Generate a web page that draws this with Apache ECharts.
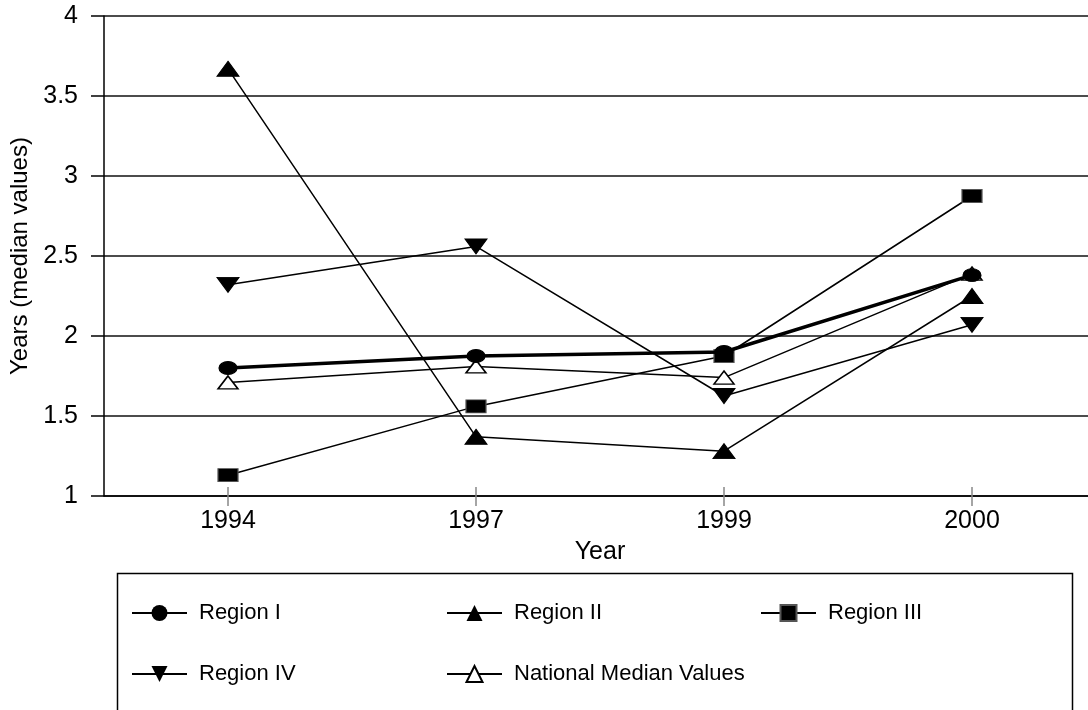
<!DOCTYPE html>
<html>
<head>
<meta charset="utf-8">
<script src="https://cdn.jsdelivr.net/npm/echarts@6/dist/echarts.min.js"></script>
<style>html,body{margin:0;padding:0;background:#fff;overflow:hidden;width:1088px;height:710px;}#c{width:1100px;height:710px;}</style>
</head>
<body>
<div id="c"></div>
<script>
const years = ['1994', '1997', '1999', '2000'];
const regionI = [1.80, 1.875, 1.90, 2.38];
const regionII = [3.67, 1.37, 1.28, 2.25];
const regionIII = [1.13, 1.56, 1.875, 2.875];
const regionIV = [2.32, 2.56, 1.625, 2.07];
const national = [1.71, 1.81, 1.74, 2.39];
const yTicks = { min: 1, max: 4, interval: 0.5 };

const FONT = "'Liberation Sans', Arial, sans-serif";
const invTri = 'path://M0,0 L22,0 L11,15 Z';

const chart = echarts.init(document.getElementById('c'), null, { renderer: 'canvas' });

function legendAt(name, left, top) {
  return {
    data: [name], left: left, top: top, padding: 0, orient: 'horizontal',
    itemWidth: 55, itemHeight: 20, selectedMode: false,
    textStyle: { fontFamily: FONT, fontSize: 22, color: '#000', padding: [0, 0, 0, 7] }
  };
}

chart.setOption({
  animation: false,
  backgroundColor: '#fff',
  grid: { left: 103, top: 16, width: 993, height: 480, containLabel: false },
  graphic: [{
    type: 'rect', silent: true, z: -1,
    shape: { x: 117.5, y: 573.5, width: 955, height: 160 },
    style: { fill: 'none', stroke: '#000', lineWidth: 1.5 }
  }],
  legend: [
    legendAt('Region I', 131, 602),
    legendAt('Region II', 446, 602),
    legendAt('Region III', 760, 602),
    legendAt('Region IV', 131, 663),
    legendAt('National Median Values', 446, 663)
  ],
  xAxis: [{
    type: 'category', data: years, boundaryGap: true,
    name: 'Year', nameLocation: 'middle', nameGap: 44,
    nameTextStyle: { fontFamily: FONT, fontSize: 25, color: '#000' },
    axisLine: { show: true, lineStyle: { color: '#000', width: 1.5 } },
    axisTick: { show: true, alignWithLabel: true, length: 10, inside: false, lineStyle: { color: '#888', width: 1.5 } },
    axisLabel: { fontFamily: FONT, fontSize: 25, color: '#000', margin: 13 },
    splitLine: { show: false }
  }, {
    type: 'category', data: years, boundaryGap: true, position: 'bottom',
    axisLine: { show: false },
    axisTick: { show: true, alignWithLabel: true, length: 9, inside: true, lineStyle: { color: '#888', width: 1.5 } },
    axisLabel: { show: false },
    splitLine: { show: false }
  }],
  yAxis: {
    type: 'value', min: yTicks.min, max: yTicks.max, interval: yTicks.interval,
    name: 'Years (median values)', nameLocation: 'middle', nameGap: 72, nameRotate: 90,
    nameTextStyle: { fontFamily: FONT, fontSize: 24, color: '#000' },
    axisLine: { show: true, lineStyle: { color: '#000', width: 1.5 } },
    axisTick: { show: true, length: 13, lineStyle: { color: '#000', width: 1.5 } },
    axisLabel: { fontFamily: FONT, fontSize: 25, color: '#000', margin: 26 },
    splitLine: { show: true, lineStyle: { color: '#111', width: 1.5 } }
  },
  series: [
    {
      name: 'Region I', type: 'line', data: regionI, z: 5,
      symbol: 'circle', symbolSize: [18, 13], showAllSymbol: true,
      lineStyle: { color: '#000', width: 3.5 },
      itemStyle: { color: '#000', borderColor: '#000' }
    },
    {
      name: 'Region II', type: 'line', data: regionII, z: 3,
      symbol: 'triangle', symbolSize: [22, 15],
      lineStyle: { color: '#000', width: 1.5 },
      itemStyle: { color: '#000', borderColor: '#000' }
    },
    {
      name: 'Region III', type: 'line', data: regionIII, z: 3,
      symbol: 'rect', symbolSize: [20, 13],
      lineStyle: { color: '#000', width: 1.5 },
      itemStyle: { color: '#000', borderColor: '#555', borderWidth: 1 }
    },
    {
      name: 'Region IV', type: 'line', data: regionIV, z: 3,
      symbol: invTri, symbolSize: [22, 15],
      lineStyle: { color: '#000', width: 1.5 },
      itemStyle: { color: '#000', borderColor: '#000' }
    },
    {
      name: 'National Median Values', type: 'line', data: national, z: 4,
      symbol: 'triangle', symbolSize: [20, 13],
      lineStyle: { color: '#000', width: 1.5 },
      itemStyle: { color: '#fff', borderColor: '#000', borderWidth: 1.5 }
    }
  ]
});
</script>
</body>
</html>
